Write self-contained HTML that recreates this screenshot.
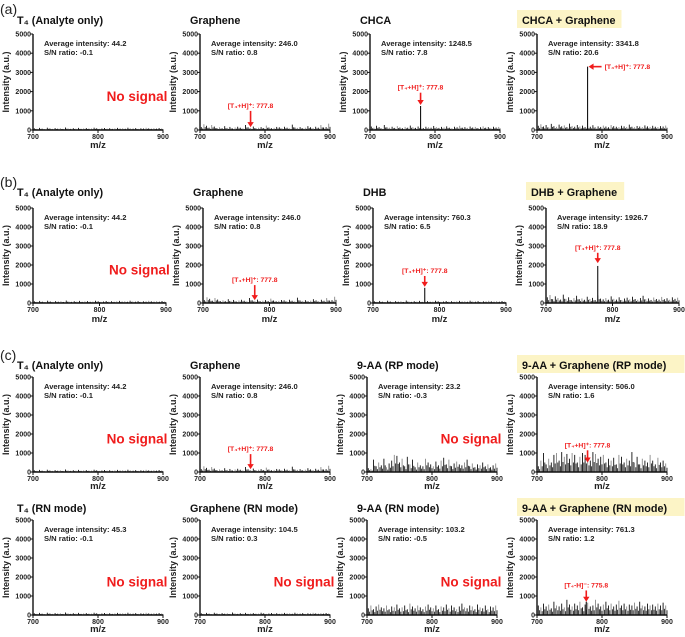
<!DOCTYPE html>
<html><head><meta charset="utf-8"><style>
body{margin:0;background:#fff}
svg{display:block;font-family:"Liberation Sans",Arial,sans-serif}
</style></head><body>
<svg id="fig" width="685" height="637" viewBox="0 0 685 637"></svg>
<script>
// ---- data ----
const xDomain = [700, 900];
const yDomain = [0, 5000];
const yTicks = [0, 1000, 2000, 3000, 4000, 5000];
const xTicks = [700, 800, 900];
const noiseLow = [90,60,110,70,50,120,80,60,100,70,90,55,130,80,60,95,70,110,60,85,100,65,75,120,90,60,80,105,70,95,60,85,110,70,90,65,120,80,70,100,60,90,75,115,85,65,95,70,105,80];
const noiseGraph = [150,300,220,120,260,180,100,140,90,200,110,160,80,130,170,120,90,260,140,110,180,90,120,150,100,230,130,90,110,160,140,100,170,120,90,280,130,110,150,90,120,200,140,100,170,120,260,130,150,330];
const noiseChca = [180,120,220,150,100,260,140,120,170,110,200,130,90,160,120,230,150,110,180,130,100,170,140,120,210,150,110,160,130,190,120,100,170,140,220,120,150,110,180,130,160,100,140,190,120,150,110,170,130,160];
const noiseChcaG = [220,300,180,260,140,320,200,160,280,190,240,150,330,210,170,260,180,230,150,200,170,250,140,190,160,230,180,140,260,200,170,150,220,190,160,280,170,140,210,180,150,240,190,160,220,170,150,200,180,230];
const noiseDhbG = [300,420,200,350,260,180,440,220,300,150,260,380,200,240,170,330,210,270,150,400,230,190,260,170,350,220,180,300,160,240,280,190,330,210,170,260,380,200,240,160,290,210,180,320,200,250,170,300,220,280];
const noiseRp = [200,150,650,300,500,350,700,250,450,600,900,850,500,700,300,800,400,650,250,500,350,300,700,500,400,300,550,350,600,750,400,650,300,450,550,400,350,500,650,300,450,250,400,350,500,300,400,250,350,450];
const noiseRpG = [300,600,1000,400,700,500,900,1000,600,1050,800,950,700,1000,900,500,800,1000,900,700,600,1050,950,700,800,900,500,700,600,750,400,900,800,500,700,600,1050,500,800,400,700,600,500,900,600,400,750,500,600,450];
const noiseRn = [350,500,300,450,550,400,350,500,300,450,400,550,350,400,500,300,600,450,350,500,400,300,450,550,400,350,500,300,450,400,550,350,500,400,300,450,600,400,350,500,450,300,550,400,350,500,300,450,400,500];
const noiseRnG = [500,400,600,450,550,350,700,500,450,600,400,800,550,450,600,500,700,400,550,650,450,500,800,600,450,550,700,500,600,450,550,750,500,600,450,550,500,650,450,700,500,450,600,500,550,450,600,500,650,500];
const peakMz = [777.8, 777.8, 777.8, 777.8, 777.8, 775.8];
const peakInt = [1250, 3300, 800, 1950, 600, 700];
const titles = ["T\u2084 (Analyte only)","Graphene","CHCA","CHCA + Graphene","T\u2084 (Analyte only)","Graphene","DHB","DHB + Graphene","T\u2084 (Analyte only)","Graphene","9-AA (RP mode)","9-AA + Graphene (RP mode)","T\u2084 (RN mode)","Graphene (RN mode)","9-AA (RN mode)","9-AA + Graphene (RN mode)"];
const avgInt = ["44.2","246.0","1248.5","3341.8","44.2","246.0","760.3","1926.7","44.2","246.0","23.2","506.0","45.3","104.5","103.2","761.3"];
const snRatio = ["-0.1","0.8","7.8","20.6","-0.1","0.8","6.5","18.9","-0.1","0.8","-0.3","1.6","-0.1","0.3","-0.5","1.2"];

// ---- layout ----
const rows=[{top:34,bot:130,t:22,mz:148,cols:[33,200,370,537],w:130},
            {top:208,bot:303,t:194,mz:322,cols:[33,203,373,546],w:133},
            {top:377,bot:472,t:367,mz:489,cols:[33,200,367,537],w:130},
            {top:520,bot:615,t:510,mz:632,cols:[33,200,367,537],w:130}];
const panels=[
 {n:noiseLow,ns:1},{n:noiseGraph,lab:{type:'down',mz:777.8,ty:1150,tip:150,txt:'+'}},{n:noiseChca,pk:0,lab:{type:'down',mz:777.8,ty:2100,tip:1300,txt:'+'}},{n:noiseChcaG,pk:1,lab:{type:'left',mz:777.8,ty:3300,txt:'+'},hl:1},
 {n:noiseLow,ns:1},{n:noiseGraph,lab:{type:'down',mz:777.8,ty:1100,tip:150,txt:'+'}},{n:noiseLow,pk:2,lab:{type:'down',mz:777.8,ty:1580,tip:850,txt:'+'}},{n:noiseDhbG,pk:3,lab:{type:'down',mz:777.8,ty:2800,tip:2100,txt:'+'},hl:1},
 {n:noiseLow,ns:1},{n:noiseGraph,lab:{type:'down',mz:777.8,ty:1100,tip:150,txt:'+'}},{n:noiseRp,ns:1},{n:noiseRpG,lab:{type:'down',mz:777.8,ty:1300,tip:500,txt:'+'},hl:1},
 {n:noiseLow,ns:1},{n:noiseLow,ns:1},{n:noiseRn,ns:1},{n:noiseRnG,pk:5,lab:{type:'down',mz:775.8,ty:1450,tip:700,txt:'-'},hl:1}
];
const NS='http://www.w3.org/2000/svg';
const svg=document.getElementById('fig');
function mk(tag,attrs,parent,text){const e=document.createElementNS(NS,tag);for(const k in attrs)e.setAttribute(k,attrs[k]);if(text!==undefined)e.textContent=text;(parent||svg).appendChild(e);return e;}
[['(a)',2],['(b)',175],['(c)',348]].forEach(([s,y])=>{
 const t=mk('text',{x:0,y:y+12,'font-size':14,fill:'#222'},svg,s);
 
 
});
panels.forEach((p,i)=>{
 const r=rows[Math.floor(i/4)], c=i%4, x0=r.cols[c], w=r.w;
 const X=v=>x0+(v-xDomain[0])/(xDomain[1]-xDomain[0])*w;
 const Y=v=>r.bot-(v-yDomain[0])/(yDomain[1]-yDomain[0])*(r.bot-r.top);
 const g=mk('g',{});
 
 
 const tx = c===0?17:x0-10;
 if(p.hl){const bw=titles[i].length*6.3+10;const hb=mk('rect',{x:x0-20,y:r.t-12,width:bw,height:18,fill:'#fcf4c6'},g);
  }
 const tt=mk('text',{x:p.hl?x0-15:tx,y:r.t+2,'font-size':10.8,'font-weight':'bold',fill:'#111'},g,titles[i]);
 
 const n=p.n;
 n.forEach((v,k)=>{const mz=xDomain[0]+(k+0.5)*(xDomain[1]-xDomain[0])/n.length;
  const l=mk('line',{x1:X(mz),x2:X(mz),y1:Y(0),y2:Y(v),stroke:k%3===1?'#888':'#111','stroke-width':0.9},g);
  
  const mz2=mz+(xDomain[1]-xDomain[0])/n.length/2;
  const l2=mk('line',{x1:X(mz2),x2:X(mz2),y1:Y(0),y2:Y(v*0.5),stroke:'#222','stroke-width':0.9},g);
  
 });
 if(p.pk!==undefined){const pl=mk('line',{x1:X(peakMz[p.pk]),x2:X(peakMz[p.pk]),y1:Y(0),y2:Y(peakInt[p.pk]),stroke:'#111','stroke-width':1.1},g);
  }
 const ax=mk('path',{d:`M${x0} ${r.top}V${r.bot}H${x0+w}`,stroke:'#111','stroke-width':1.4,fill:'none'},g);
 
 yTicks.forEach(v=>{mk('line',{x1:x0-3,x2:x0,y1:Y(v),y2:Y(v),stroke:'#111'},g);
  const t=mk('text',{x:x0-2,y:Y(v)+2.5,'font-size':7,'font-weight':'bold','text-anchor':'end',fill:'#222'},g,v);
  });
 xTicks.forEach(v=>{mk('line',{x1:X(v),x2:X(v),y1:r.bot,y2:r.bot+3,stroke:'#111'},g);
  const t=mk('text',{x:X(v),y:r.bot+9,'font-size':7,'font-weight':'bold','text-anchor':'middle',fill:'#222'},g,v);
  });
 const yt=mk('text',{x:0,y:0,'font-size':9,'font-weight':'bold','text-anchor':'middle',fill:'#222',transform:`translate(${x0-24},${(r.top+r.bot)/2}) rotate(-90)`},g,'Intensity (a.u.)');
 
 const xt=mk('text',{x:x0+w/2,y:r.mz,'font-size':9.5,'font-weight':'bold','text-anchor':'middle',fill:'#222'},g,'m/z');
 
 const a1=mk('text',{x:x0+11,y:r.top+12,'font-size':7.6,'font-weight':'bold',fill:'#222'},g,'Average intensity: '+avgInt[i]);
 
 const a2=mk('text',{x:x0+11,y:r.top+21,'font-size':7.6,'font-weight':'bold',fill:'#222'},g,'S/N ratio: '+snRatio[i]);
 
 if(p.ns){const t=mk('text',{x:x0+w*0.8,y:Y(1500),'font-size':13.5,'font-weight':'bold','text-anchor':'middle',fill:'#f01c1c'},g,'No signal');
  }
 if(p.lab){const L=p.lab, lx=X(L.mz);
  const txt=L.txt==='+'?'[T\u2084+H]\u207A: ':'[T\u2084-H]\u207B: ';
  if(L.type==='down'){
   const ty=Y(L.ty), tip=Y(L.tip);
   mk('line',{x1:lx,x2:lx,y1:ty+3,y2:tip-4,stroke:'#f01c1c','stroke-width':1.6},g);
   mk('path',{d:`M${lx-3.2} ${tip-5}L${lx+3.2} ${tip-5}L${lx} ${tip}Z`,fill:'#f01c1c'},g);
   const t=mk('text',{x:lx,y:ty,'font-size':6.8,'font-weight':'bold','text-anchor':'middle',fill:'#f01c1c'},g,txt+L.mz);
   
  } else {
   const ly=Y(L.ty);
   mk('line',{x1:lx+4,x2:lx+14,y1:ly,y2:ly,stroke:'#f01c1c','stroke-width':1.6},g);
   mk('path',{d:`M${lx+6} ${ly-3.2}L${lx+6} ${ly+3.2}L${lx+1} ${ly}Z`,fill:'#f01c1c'},g);
   const t=mk('text',{x:lx+17,y:ly+2.5,'font-size':6.8,'font-weight':'bold',fill:'#f01c1c'},g,txt+L.mz);
   
  }
 }
});
</script>
</body></html>
